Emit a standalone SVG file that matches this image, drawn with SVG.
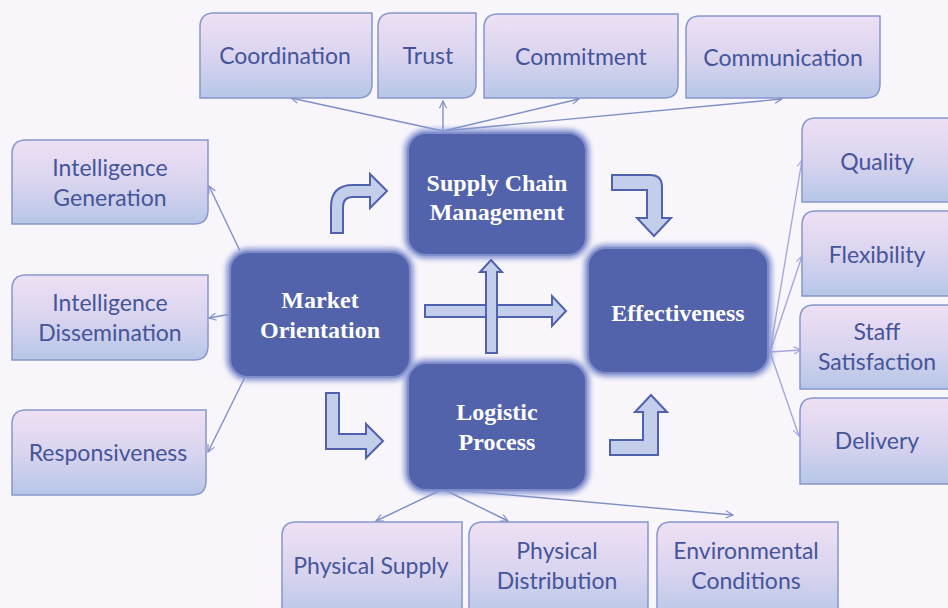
<svg xmlns="http://www.w3.org/2000/svg" width="948" height="608" viewBox="0 0 948 608">
<defs>
<linearGradient id="lg" x1="0" y1="0" x2="0" y2="1">
<stop offset="0" stop-color="#eee0f4"/>
<stop offset="0.5" stop-color="#dad4ef"/>
<stop offset="1" stop-color="#b6c6e7"/>
</linearGradient>
<filter id="glow" x="-10%" y="-10%" width="120%" height="120%">
<feGaussianBlur stdDeviation="2.5"/>
</filter>
<marker id="ah" viewBox="0 0 10 10" refX="9" refY="5" markerWidth="9" markerHeight="9" orient="auto" markerUnits="userSpaceOnUse">
<path d="M1,1 L9,5 L1,9" fill="none" stroke="#7f90c8" stroke-width="1.3"/>
</marker>
<marker id="ah2" viewBox="0 0 10 10" refX="9" refY="5" markerWidth="9" markerHeight="9" orient="auto" markerUnits="userSpaceOnUse">
<path d="M1,1 L9,5 L1,9" fill="none" stroke="#a9a6dc" stroke-width="1.3"/>
</marker>
</defs>
<style>
.lbox{fill:url(#lg);stroke:#8797cc;stroke-width:1.5}
.lt{font-family:Lato,"Liberation Sans",sans-serif;font-size:23px;fill:#45559a;text-anchor:middle}
.dglow{fill:#8c9ad4;filter:url(#glow)}
.dbox{fill:#5262ab;stroke:#7f8ecb;stroke-width:2}
.dt{font-family:"Liberation Serif","DejaVu Serif",serif;font-weight:bold;font-size:24px;fill:#ffffff;text-anchor:middle}
.con{fill:none;stroke:#7f90c8;stroke-width:1.4;marker-end:url(#ah)}
.con2{fill:none;stroke:#a9a6dc;stroke-width:1.4;marker-end:url(#ah2)}
.barrow{fill:#c3cfea;stroke:#5062ae;stroke-width:2;stroke-linejoin:miter}
</style>
<rect width="948" height="608" fill="#f8f5fb"/>

<g id="connectors">
<path class="con" d="M443,131 L291,98"/>
<path class="con" d="M443,131 L443,101"/>
<path class="con" d="M443,131 L579,99"/>
<path class="con" d="M443,131 L782,99"/>
<path class="con" d="M240,251 L209,186"/>
<path class="con" d="M231,314 L209,318"/>
<path class="con" d="M247,373 L208,452"/>
<path class="con2" d="M770,352 L802,160"/>
<path class="con2" d="M770,352 L802,256"/>
<path class="con2" d="M770,352 L801,350"/>
<path class="con2" d="M770,352 L799,436"/>
<path class="con" d="M443,489 L376,521"/>
<path class="con" d="M443,489 L508,521"/>
<path class="con" d="M443,489 L733,515"/>
</g>

<g id="coordination"><path class="lbox" d="M214,13 H372 V84 Q372,98 358,98 H200 V27 Q200,13 214,13 Z"/><text class="lt" x="285" y="64">Coordination</text></g>
<g id="trust"><path class="lbox" d="M392,13 H476 V84 Q476,98 462,98 H378 V27 Q378,13 392,13 Z"/><text class="lt" x="428" y="64">Trust</text></g>
<g id="commitment"><path class="lbox" d="M498,14 H678 V84 Q678,98 664,98 H484 V28 Q484,14 498,14 Z"/><text class="lt" x="581" y="65">Commitment</text></g>
<g id="communication"><path class="lbox" d="M700,16 H880 V84 Q880,98 866,98 H686 V30 Q686,16 700,16 Z"/><text class="lt" x="783" y="66">Communication</text></g>

<g id="intel-gen"><path class="lbox" d="M26,140 H208 V210 Q208,224 194,224 H12 V154 Q12,140 26,140 Z"/><text class="lt" x="110" y="176">Intelligence</text><text class="lt" x="110" y="206">Generation</text></g>
<g id="intel-dis"><path class="lbox" d="M26,275 H208 V346 Q208,360 194,360 H12 V289 Q12,275 26,275 Z"/><text class="lt" x="110" y="311">Intelligence</text><text class="lt" x="110" y="341">Dissemination</text></g>
<g id="responsiveness"><path class="lbox" d="M26,410 H206 V481 Q206,495 192,495 H12 V424 Q12,410 26,410 Z"/><text class="lt" x="108" y="461">Responsiveness</text></g>

<g id="quality"><path class="lbox" d="M816,118 H962 V202 H802 V132 Q802,118 816,118 Z"/><text class="lt" x="877" y="170">Quality</text></g>
<g id="flexibility"><path class="lbox" d="M816,211 H962 V296 H802 V225 Q802,211 816,211 Z"/><text class="lt" x="877" y="263">Flexibility</text></g>
<g id="staff"><path class="lbox" d="M814,305 H962 V389 H800 V319 Q800,305 814,305 Z"/><text class="lt" x="877" y="340">Staff</text><text class="lt" x="877" y="370">Satisfaction</text></g>
<g id="delivery"><path class="lbox" d="M814,398 H962 V484 H800 V412 Q800,398 814,398 Z"/><text class="lt" x="877" y="449">Delivery</text></g>

<g id="physical-supply"><path class="lbox" d="M296,522 H462 V620 H282 V536 Q282,522 296,522 Z"/><text class="lt" x="371" y="574">Physical Supply</text></g>
<g id="physical-distribution"><path class="lbox" d="M483,522 H648 V620 H469 V536 Q469,522 483,522 Z"/><text class="lt" x="557" y="559">Physical</text><text class="lt" x="557" y="589">Distribution</text></g>
<g id="environmental"><path class="lbox" d="M671,522 H838 V620 H657 V536 Q657,522 671,522 Z"/><text class="lt" x="746" y="559">Environmental</text><text class="lt" x="746" y="589">Conditions</text></g>

<g id="scm"><rect class="dglow" x="404" y="129" width="186" height="130" rx="22"/><rect class="dbox" x="408" y="133" width="178" height="122" rx="18"/><text class="dt" x="497" y="191">Supply  Chain</text><text class="dt" x="497" y="220">Management</text></g>
<g id="market"><rect class="dglow" x="226" y="248" width="188" height="133" rx="22"/><rect class="dbox" x="230" y="252" width="180" height="125" rx="18"/><text class="dt" x="320" y="308">Market</text><text class="dt" x="320" y="338">Orientation</text></g>
<g id="effectiveness"><rect class="dglow" x="584" y="244" width="188" height="133" rx="22"/><rect class="dbox" x="588" y="248" width="180" height="125" rx="18"/><text class="dt" x="678" y="321">Effectiveness</text></g>
<g id="logistic"><rect class="dglow" x="404" y="359" width="186" height="135" rx="22"/><rect class="dbox" x="408" y="363" width="178" height="127" rx="18"/><text class="dt" x="497" y="420">Logistic</text><text class="dt" x="497" y="450">Process</text></g>

<g id="block-arrows">
<path class="barrow" d="M331,233 L331,207 Q331,185 353,185 L370,185 L370,174 L387,191 L370,208 L370,197 L353,197 Q343,197 343,207 L343,233 Z"/>
<path class="barrow" d="M612,175 L650,175 Q662,175 662,187 L662,218 L671,218 L654,236 L637,218 L647,218 L647,190 L612,190 Z"/>
<path class="barrow" d="M326,393 L339,393 L339,434 L366,434 L366,424 L383,441 L366,458 L366,449 L326,449 Z"/>
<path class="barrow" d="M610,440 L643,440 L643,412 L635,412 L651,395 L667,412 L658,412 L658,455 L610,455 Z"/>
<path class="barrow" d="M425,305 L552,305 L552,296 L566,311 L552,326 L552,317 L425,317 Z"/>
<path class="barrow" d="M486,353 L486,272 L480,272 L491,260 L502,272 L497,272 L497,353 Z"/>
</g>
</svg>
